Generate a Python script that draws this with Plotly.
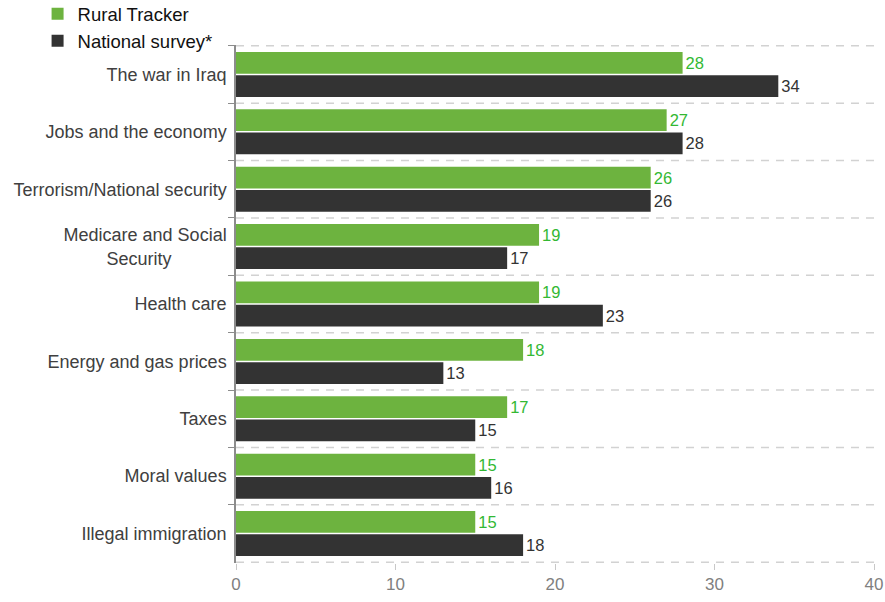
import plotly.graph_objects as go

categories = [
    "The war in Iraq",
    "Jobs and the economy",
    "Terrorism/National security",
    "Medicare and Social<br>Security" + "\u00a0" * 11,
    "Health care",
    "Energy and gas prices",
    "Taxes",
    "Moral values",
    "Illegal immigration",
]
rural_tracker = [28, 27, 26, 19, 19, 18, 17, 15, 15]
national_survey = [34, 28, 26, 17, 23, 13, 15, 16, 18]
x_ticks = [0, 10, 20, 30, 40]

GREEN = "#6db33f"
GREEN_TEXT = "#33b833"
DARK = "#333333"
FONT = "Liberation Sans, Arial, sans-serif"

fig = go.Figure()
fig.add_trace(go.Bar(
    y=categories, x=rural_tracker, orientation="h", name="Rural Tracker",
    marker=dict(color=GREEN, line=dict(width=0)),
    text=rural_tracker, textposition="outside",
    textfont=dict(color=GREEN_TEXT, size=16.5, family=FONT),
    cliponaxis=False, legendgroup="a",
))
fig.add_trace(go.Bar(
    y=categories, x=national_survey, orientation="h", name="National survey*",
    marker=dict(color=DARK, line=dict(width=0)),
    text=national_survey, textposition="outside",
    textfont=dict(color=DARK, size=16.5, family=FONT),
    cliponaxis=False, legendgroup="b",
))

# dashed separators at category boundaries (derived from the category count)
for i in range(len(categories) + 1):
    fig.add_shape(
        type="line", xref="paper", yref="y",
        x0=0, x1=1, y0=i - 0.5, y1=i - 0.5,
        line=dict(color="#d2d2d2", width=1.5, dash="8px,7px"),
        layer="above",
    )

fig.update_layout(
    width=885, height=602,
    margin=dict(l=236, r=11, t=45, b=39, autoexpand=False),
    paper_bgcolor="white", plot_bgcolor="white",
    barmode="group", bargap=0.19, bargroupgap=0.065,
    font=dict(family=FONT, color="#404040"),
    showlegend=True,
    legend=dict(
        x=-0.311, xanchor="left", y=1.096, yanchor="top",
        font=dict(size=18.5, color="#111111", family=FONT),
        traceorder="normal", tracegroupgap=8,
        bgcolor="rgba(0,0,0,0)",
    ),
    xaxis=dict(
        range=[0, 40], tickvals=x_ticks, ticktext=[str(v) for v in x_ticks],
        showgrid=False, zeroline=False, showline=False,
        ticks="outside", ticklen=6, tickcolor="#c8c8c8",
        tickfont=dict(size=17, color="#808080", family=FONT),
        fixedrange=True,
    ),
    yaxis=dict(
        type="category", autorange="reversed",
        tickson="boundaries", ticks="outside", ticklen=6, tickcolor="#8c8c8c",
        showline=True, linecolor="#8c8c8c", linewidth=1.5,
        showgrid=False,
        tickfont=dict(size=18, color="#404040", family=FONT),
        ticklabelstandoff=4,
    ),
)

fig.write_html(
    "out.html",
    config={"displayModeBar": False},
    post_script="document.body.style.margin='0';document.body.style.overflow='hidden';",
)
